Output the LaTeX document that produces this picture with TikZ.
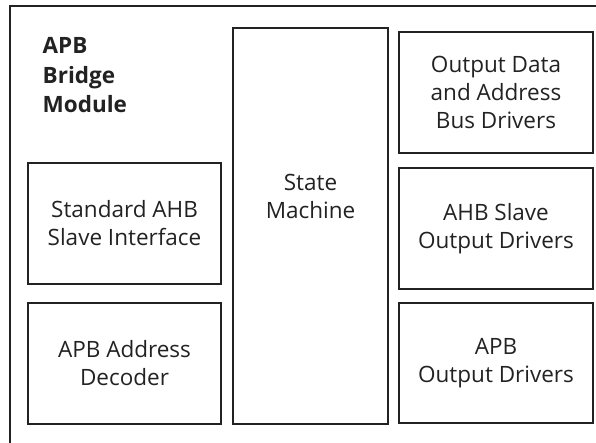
\documentclass[tikz,border=0pt]{standalone}
\usepackage{fontspec}
\setmainfont{Open Sans}
\usepackage{tikz}
\usetikzlibrary{positioning}

\definecolor{inkgray}{HTML}{222222}
\tikzset{
  blockbox/.style={draw=inkgray, text=inkgray, line width=1.8pt, align=center,
    inner sep=0pt, font=\fontsize{22.5}{28}\selectfont},
  frameline/.style={draw=inkgray, line width=1.8pt}
}

\begin{document}
\begin{tikzpicture}[x=1pt,y=1pt]
    \useasboundingbox (0,0) rectangle (596,443);
    % Draw the outer frame
    \coordinate (framebot) at (10,-2);
    \coordinate (frametop) at (10,437);
    \coordinate (frameend) at (598,437);
    \draw[frameline] (framebot) -- (frametop) -- (frameend);
    \node[anchor=north west, align=left, inner sep=0pt, text=inkgray,
      font=\fontsize{22.5}{29.5}\selectfont\bfseries] (title) at (42.5,405.7)
      {APB\\Bridge\\Module};

    % Draw the left column
    \node[blockbox, minimum width=193, minimum height=121] (ahbif) at (124.5,219.5)
      {Standard AHB\\Slave Interface};
    \node[blockbox, minimum width=193, minimum height=121] (decoder) at (124.5,79.5)
      {APB Address\\Decoder};

    % Draw the state machine
    \node[blockbox, minimum width=155, minimum height=396] (sm) at (310.5,217) {};
    \node[align=center, inner sep=0pt, text=inkgray,
      font=\fontsize{22.5}{28}\selectfont] (smtext) at (310.5,247) {State\\Machine};

    % Draw the right column
    \node[blockbox, minimum width=194, minimum height=121] (busdrv) at (496,350.5)
      {Output Data\\and Address\\Bus Drivers};
    \node[blockbox, minimum width=194, minimum height=121] (ahbdrv) at (496,214.5)
      {AHB Slave\\Output Drivers};
    \node[blockbox, minimum width=194, minimum height=120] (apbdrv) at (496,80)
      {APB\\Output Drivers};
\end{tikzpicture}
\end{document}
